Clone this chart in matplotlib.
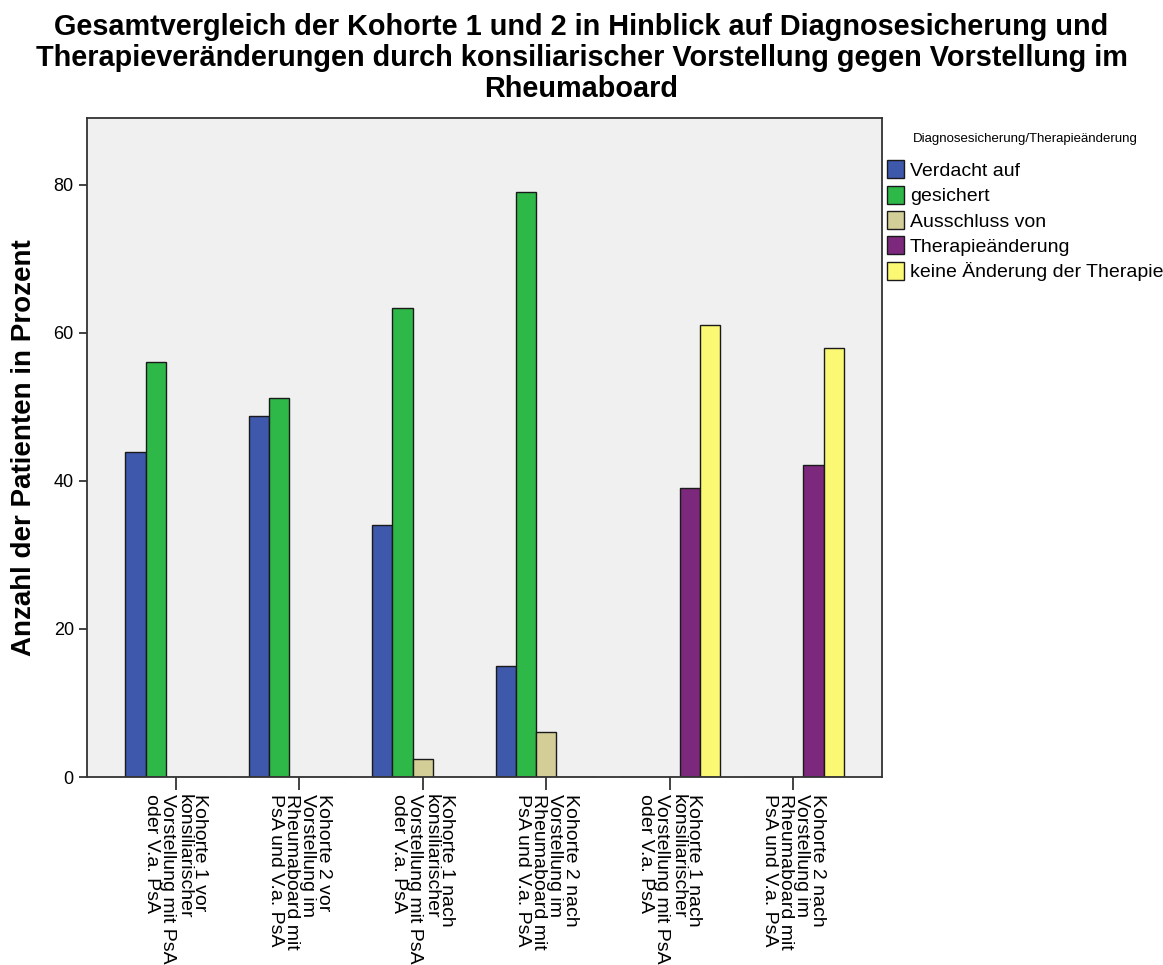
import matplotlib
matplotlib.use("Agg")
import matplotlib.pyplot as plt
import numpy as np

plt.rcParams['font.family'] = ['Liberation Sans', 'DejaVu Sans']

categories = [
    "Kohorte 1 vor\nkonsiliarischer\nVorstellung mit PsA\noder V.a. PsA",
    "Kohorte 2 vor\nVorstellung im\nRheumaboard mit\nPsA und V.a. PsA",
    "Kohorte 1 nach\nkonsiliarischer\nVorstellung mit PsA\noder V.a. PsA",
    "Kohorte 2 nach\nVorstellung im\nRheumaboard mit\nPsA und V.a. PsA",
    "Kohorte 1 nach\nkonsiliarischer\nVorstellung mit PsA\noder V.a. PsA",
    "Kohorte 2 nach\nVorstellung im\nRheumaboard mit\nPsA und V.a. PsA",
]
series_names = ["Verdacht auf", "gesichert", "Ausschluss von",
                "Therapieänderung", "keine Änderung der Therapie"]
verdacht = [43.9, 48.8, 34.1, 15.0, 0, 0]
gesichert = [56.1, 51.2, 63.4, 79.0, 0, 0]
ausschluss = [0, 0, 2.4, 6.1, 0, 0]
therapie = [0, 0, 0, 0, 39.0, 42.1]
keine = [0, 0, 0, 0, 61.0, 57.9]
series = [verdacht, gesichert, ausschluss, therapie, keine]
colors = ["#3E58AC", "#2EB848", "#D3CE97", "#7C287D", "#FBF873"]

fig = plt.figure(figsize=(11.63, 9.65), dpi=100)
ax = fig.add_axes([0.0748, 0.1948, 0.6836, 0.6829])
ax.set_facecolor("#F0F0F0")

x = np.arange(len(categories))
w = 0.164
for i, (vals, c, name) in enumerate(zip(series, colors, series_names)):
    ax.bar(x + (i - 2) * w, vals, width=w, color=c, edgecolor="#1a1a1a",
           linewidth=1.0, label=name)

ax.set_xlim(-0.72, 5.72)
ax.set_ylim(0, 89)
ax.set_yticks([0, 20, 40, 60, 80])
ax.set_xticks(x)
ax.set_xticklabels(categories, rotation=270, ha="center", va="top",
                   multialignment="left", fontsize=14, linespacing=0.92)
ax.tick_params(axis="x", length=9, width=1.2, color="#222222", pad=3)
ax.tick_params(axis="y", length=6, width=1.2, color="#222222", labelsize=13)
for s in ax.spines.values():
    s.set_color("#333333")
    s.set_linewidth(1.3)

ax.set_ylabel("Anzahl der Patienten in Prozent", fontsize=20, fontweight="bold",
              labelpad=12)

fig.text(0.5, 1 - 58 / 965,
         "Gesamtvergleich der Kohorte 1 und 2 in Hinblick auf Diagnosesicherung und\n"
         "Therapieveränderungen durch konsiliarischer Vorstellung gegen Vorstellung im\n"
         "Rheumaboard", fontsize=20.8, fontweight="bold", ha="center", va="center",
         linespacing=1.12)

leg = ax.legend(loc="upper left", bbox_to_anchor=(1.002, 0.983), frameon=False,
                title="Diagnosesicherung/Therapieänderung", fontsize=14,
                title_fontproperties={"size": 9.5}, handlelength=0.85,
                handleheight=1.05, handletextpad=0.3, labelspacing=0.29,
                borderaxespad=0.0, borderpad=0.2)
leg._legend_box.align = "center"
leg._legend_box.sep = 11

fig.savefig("out.png", dpi=100)
